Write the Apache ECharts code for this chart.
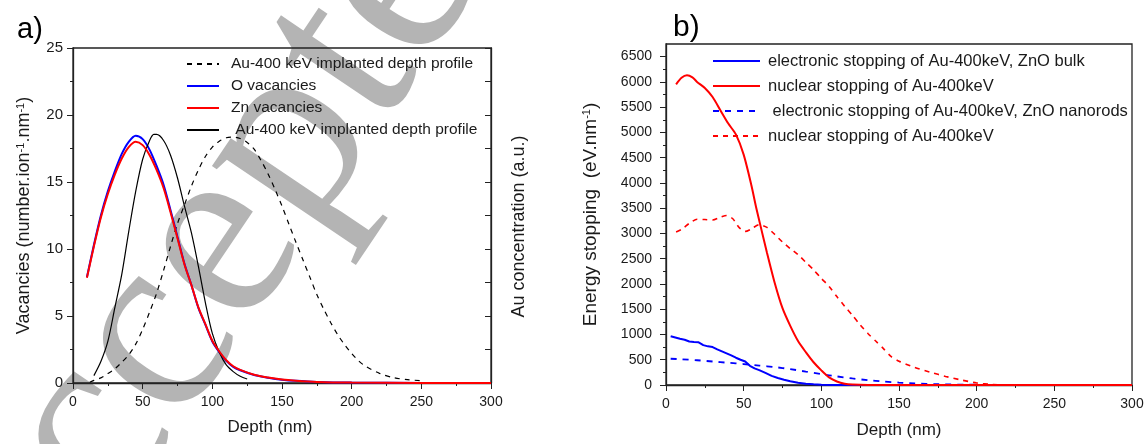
<!DOCTYPE html>
<html>
<head>
<meta charset="utf-8">
<script src="https://cdn.jsdelivr.net/npm/echarts@6/dist/echarts.min.js"></script>
<style>
  html, body { margin: 0; padding: 0; background: #fff; }
  #chart { width: 1147px; height: 444px; }
</style>
</head>
<body>
<div id="chart"></div>
<script>
// ---- Panel a: vacancy profiles (left axis) and Au depth profiles (right axis, a.u.)
const depthVac = [10, 15, 20, 25, 30, 35, 40, 45, 50, 55, 60, 65, 70, 75, 80, 85, 90, 95, 100, 105, 110, 115, 120, 130, 140, 150, 160, 175, 200, 250, 300];
const oVacancies = [7.9, 10.3, 12.5, 14.3, 15.8, 17.1, 18.0, 18.45, 18.2, 17.4, 16.2, 14.8, 12.9, 10.9, 8.9, 7.3, 5.6, 4.35, 3.1, 2.3, 1.65, 1.2, 0.95, 0.6, 0.4, 0.25, 0.16, 0.08, 0.03, 0.005, 0];
const znVacancies = [7.85, 10.2, 12.35, 14.1, 15.55, 16.75, 17.6, 18.0, 17.75, 17.0, 15.9, 14.55, 12.75, 10.8, 8.85, 7.3, 5.65, 4.4, 3.15, 2.35, 1.7, 1.25, 0.98, 0.62, 0.41, 0.26, 0.17, 0.08, 0.03, 0.005, 0];

const depthAuBulk = [12, 15, 20, 25, 30, 35, 40, 45, 50, 55, 60, 65, 70, 75, 80, 85, 90, 95, 100, 105, 110, 115, 120, 125, 130, 135, 140, 145, 150, 155, 160, 165, 170, 175, 180, 185, 190, 195, 200, 205, 210, 220, 230, 240, 250];
const auProfileDashed = [0.05, 0.2, 0.38, 0.7, 1.05, 1.55, 2.1, 2.9, 4.0, 5.3, 6.7, 8.4, 10.2, 11.9, 13.3, 14.7, 15.9, 16.9, 17.6, 18.05, 18.3, 18.35, 18.25, 17.95, 17.45, 16.6, 15.6, 14.45, 13.2, 11.85, 10.5, 9.2, 7.9, 6.6, 5.5, 4.5, 3.6, 2.85, 2.2, 1.65, 1.25, 0.72, 0.4, 0.25, 0.17];

const depthAuRods = [15, 20, 25, 30, 35, 40, 45, 50, 55, 58, 60, 65, 70, 75, 80, 85, 90, 95, 100, 105, 110, 115, 120, 125];
const auProfileSolid = [0.55, 1.6, 3.1, 5.6, 8.1, 11.3, 14.3, 16.7, 18.1, 18.55, 18.55, 18.1, 17.0, 15.3, 13.2, 11.2, 8.7, 6.0, 3.7, 2.3, 1.35, 0.85, 0.5, 0.3];

// ---- Panel b: stopping powers
const depthNucBulk = [6.5, 10, 13.5, 17, 20, 25, 30, 35, 40, 45, 50, 55, 58, 61, 65, 70, 75, 80, 85, 90, 95, 100, 105, 110, 115, 120, 130, 150, 200, 250, 300];
const nucBulk = [5950, 6080, 6130, 6090, 6000, 5880, 5700, 5440, 5180, 4960, 4560, 3950, 3520, 3130, 2620, 2020, 1520, 1170, 870, 650, 450, 290, 150, 70, 25, 8, 0, 0, 0, 0, 0];

const depthElecBulk = [3, 6, 9, 12, 15, 18, 21, 24, 27, 30, 33, 36, 39, 42, 45, 48, 51, 54, 57, 60, 64, 68, 72, 76, 80, 85, 90, 95, 100, 110, 120, 150, 200, 300];
const elecBulk = [965, 940, 915, 895, 860, 850, 845, 790, 765, 750, 705, 665, 625, 585, 540, 500, 465, 380, 330, 295, 240, 180, 140, 105, 75, 45, 25, 14, 7, 2, 0, 0, 0, 0];

const depthElecRods = [3, 10, 20, 30, 40, 50, 60, 70, 80, 90, 100, 110, 120, 130, 140, 150, 160, 175, 200, 225, 250, 300];
const elecRods = [520, 510, 490, 465, 440, 415, 385, 355, 315, 265, 215, 170, 130, 95, 70, 48, 30, 15, 5, 1, 0, 0];

const depthNucRods = [6.5, 10, 15, 20, 25, 30, 35, 39, 43, 47, 51, 55, 60, 65, 70, 75, 80, 85, 90, 95, 100, 105, 110, 115, 120, 125, 130, 135, 140, 145, 150, 160, 170, 180, 190, 200, 210, 220, 300];
const nucRods = [3030, 3080, 3200, 3280, 3275, 3265, 3320, 3355, 3290, 3120, 3040, 3090, 3175, 3120, 2980, 2830, 2700, 2580, 2430, 2280, 2110, 1950, 1750, 1560, 1380, 1190, 1020, 870, 720, 560, 470, 350, 255, 170, 100, 40, 10, 0, 0];

// ---- Axis tick values and labels
const stopMajor = [0, 500, 1000, 1500, 2000, 2500, 3000, 3500, 4000, 4500, 5000, 5500, 6000, 6500];
const stopMinor = [250, 750, 1250, 1750, 2250, 2750, 3250, 3750, 4250, 4750, 5250, 5750, 6250];

const legendA = ['Au-400 keV implanted depth profile', 'O vacancies', 'Zn vacancies', ' Au-400 keV implanted depth profile'];
const legendB = ['electronic stopping of Au-400keV, ZnO bulk', 'nuclear stopping of Au-400keV', ' electronic stopping of Au-400keV, ZnO nanorods', 'nuclear stopping of Au-400keV '];

const pairs = (xs, ys) => xs.map((x, i) => [x, ys[i]]);

const FONT = '"Liberation Sans", Arial, sans-serif';
const INK = '#1a1a1a';
const AXIS = '#222';
const supRich = { sup: { fontSize: 11, verticalAlign: 'top', padding: [0, 0, 6, 0], fontFamily: FONT, color: INK } };

function depthAxis(gridIndex, gap, shift) {
  return {
    type: 'value', gridIndex, min: 0, max: 300, interval: 50,
    axisLine: { show: true, lineStyle: { color: AXIS, width: 1.3 } },
    axisTick: { show: true, inside: false, length: 6, lineStyle: { color: AXIS, width: 1 } },
    minorTick: { show: true, splitNumber: 2, length: 3, lineStyle: { color: AXIS, width: 1 } },
    splitLine: { show: false },
    axisLabel: { fontSize: 14, color: INK, margin: 12, fontFamily: FONT },
    name: 'Depth (nm)', nameLocation: 'middle', nameGap: gap,
    nameTextStyle: { fontSize: 17, color: INK, fontFamily: FONT, padding: [0, shift, 0, 0] }
  };
}

function legendBox(left, top, width, gap, data, size, lineH, pad) {
  return {
    left, top, orient: 'vertical', padding: 0, itemWidth: width, itemHeight: 14, itemGap: gap,
    selectedMode: false, data,
    itemStyle: { opacity: 0 },
    textStyle: { fontSize: size, color: INK, fontFamily: FONT, lineHeight: lineH, padding: [0, 0, 0, pad] }
  };
}

const chart = echarts.init(document.getElementById('chart'), null, { renderer: 'canvas' });

chart.setOption({
  animation: false,
  backgroundColor: '#fff',
  textStyle: { fontFamily: FONT },
  grid: [
    { left: 73, right: 656, top: 48, bottom: 61, show: true, borderColor: AXIS, borderWidth: 1.3, backgroundColor: 'transparent' },
    { left: 666, right: 15, top: 44, bottom: 55, show: true, borderColor: AXIS, borderWidth: 1.3, backgroundColor: 'transparent' }
  ],
  xAxis: [depthAxis(0, 36, 24), depthAxis(1, 37, 0)],
  yAxis: [
    {
      type: 'value', gridIndex: 0, position: 'left', min: 0, max: 25, interval: 5,
      axisLine: { show: true, lineStyle: { color: AXIS, width: 1.3 } },
      axisTick: { show: true, length: 6, lineStyle: { color: AXIS } },
      minorTick: { show: true, splitNumber: 2, length: 3, lineStyle: { color: AXIS } },
      splitLine: { show: false },
      axisLabel: { fontSize: 15, color: INK, margin: 10, fontFamily: FONT },
      name: 'Vacancies (number.ion{sup|-1}.nm{sup|-1})', nameLocation: 'middle', nameGap: 40,
      nameTextStyle: { fontSize: 18, color: INK, fontFamily: FONT, rich: supRich }
    },
    {
      type: 'value', gridIndex: 0, position: 'right', min: 0, max: 25, interval: 2.5,
      axisLine: { show: true, lineStyle: { color: AXIS, width: 1.3 } },
      axisTick: { show: true, inside: true, length: 6, lineStyle: { color: AXIS } },
      axisLabel: { show: false },
      splitLine: { show: false },
      name: 'Au concentration (a.u.)', nameLocation: 'middle', nameGap: 19, nameRotate: 90,
      nameTextStyle: { fontSize: 18, color: INK, fontFamily: FONT, padding: [0, 22, 0, 0] }
    },
    {
      type: 'value', gridIndex: 1, position: 'left', min: 0, max: 6750,
      axisLine: { show: true, lineStyle: { color: AXIS, width: 1.3 } },
      axisTick: { show: true, length: 6, customValues: stopMajor, lineStyle: { color: AXIS } },
      splitLine: { show: false },
      axisLabel: { fontSize: 14, color: INK, margin: 14, fontFamily: FONT, customValues: stopMajor, formatter: (v) => String(v) },
      name: 'Energy stopping  (eV.nm{sup|-1})', nameLocation: 'middle', nameGap: 66,
      nameTextStyle: { fontSize: 19, color: INK, fontFamily: FONT, rich: supRich }
    },
    {
      type: 'value', gridIndex: 1, position: 'left', min: 0, max: 6750,
      axisLine: { show: false },
      axisTick: { show: true, length: 3, customValues: stopMinor, lineStyle: { color: AXIS } },
      axisLabel: { show: false },
      splitLine: { show: false }
    }
  ],
  legend: [
    legendBox(186, 56, 32, 6, legendA, 15.5, 16, 7),
    legendBox(712, 52, 47, 7, legendB, 16.5, 18, 3)
  ],
  graphic: [
    {
      // grey "Accepted" stamp lying behind panel a
      type: 'text', z: -10, x: -47.5, y: 642, rotation: 56 * Math.PI / 180,
      style: { text: 'Accepted', font: '260px "Liberation Serif", "Times New Roman", serif', fill: '#b4b4b4',
               textAlign: 'left', textVerticalAlign: 'middle', align: 'left', verticalAlign: 'middle' }
    },
    { type: 'text', left: 17, top: 15, style: { text: 'a)', font: '29px "Liberation Sans", Arial, sans-serif', fill: '#000' } },
    { type: 'text', left: 673, top: 13, style: { text: 'b)', font: '30px "Liberation Sans", Arial, sans-serif', fill: '#000' } }
  ],
  series: [
    {
      name: legendA[0], type: 'line', xAxisIndex: 0, yAxisIndex: 1, symbol: 'none', smooth: 0.3, z: 3,
      lineStyle: { color: '#000', width: 1.2, type: [5, 5] }, itemStyle: { color: '#000' },
      data: pairs(depthAuBulk, auProfileDashed)
    },
    {
      name: legendA[1], type: 'line', xAxisIndex: 0, yAxisIndex: 0, symbol: 'none', smooth: 0.3, z: 3,
      lineStyle: { color: '#0000ff', width: 2 }, itemStyle: { color: '#0000ff' },
      data: pairs(depthVac, oVacancies)
    },
    {
      name: legendA[2], type: 'line', xAxisIndex: 0, yAxisIndex: 0, symbol: 'none', smooth: 0.3, z: 4,
      lineStyle: { color: '#ff0000', width: 2 }, itemStyle: { color: '#ff0000' },
      data: pairs(depthVac, znVacancies)
    },
    {
      name: legendA[3], type: 'line', xAxisIndex: 0, yAxisIndex: 1, symbol: 'none', smooth: 0.3, z: 3,
      lineStyle: { color: '#000', width: 1.2 }, itemStyle: { color: '#000' },
      data: pairs(depthAuRods, auProfileSolid)
    },
    {
      name: legendB[0], type: 'line', xAxisIndex: 1, yAxisIndex: 2, symbol: 'none', z: 3,
      lineStyle: { color: '#0000ff', width: 2 }, itemStyle: { color: '#0000ff' },
      data: pairs(depthElecBulk, elecBulk)
    },
    {
      name: legendB[1], type: 'line', xAxisIndex: 1, yAxisIndex: 2, symbol: 'none', smooth: 0.25, z: 4,
      lineStyle: { color: '#ff0000', width: 2 }, itemStyle: { color: '#ff0000' },
      data: pairs(depthNucBulk, nucBulk)
    },
    {
      name: legendB[2], type: 'line', xAxisIndex: 1, yAxisIndex: 2, symbol: 'none', smooth: 0.25, z: 3,
      lineStyle: { color: '#0000ff', width: 1.8, type: [6, 6] }, itemStyle: { color: '#0000ff' },
      data: pairs(depthElecRods, elecRods)
    },
    {
      name: legendB[3], type: 'line', xAxisIndex: 1, yAxisIndex: 2, symbol: 'none', smooth: 0.25, z: 3,
      lineStyle: { color: '#ff0000', width: 1.6, type: [5, 5] }, itemStyle: { color: '#ff0000' },
      data: pairs(depthNucRods, nucRods)
    }
  ]
});
</script>
</body>
</html>
